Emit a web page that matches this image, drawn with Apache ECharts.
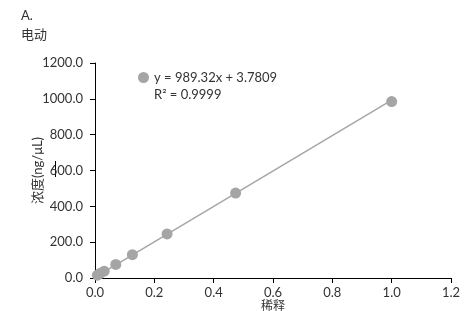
<!DOCTYPE html>
<html><head><meta charset="utf-8">
<script src="https://cdn.jsdelivr.net/npm/echarts@6/dist/echarts.min.js"></script>
<style>html,body{margin:0;padding:0;background:#fff}#c{width:472px;height:311px}</style>
</head><body><div id="c"></div>
<script>
const dilution = [0.008, 0.016, 0.031, 0.07, 0.126, 0.243, 0.474, 1.0];
const concentration = [16, 25, 38, 76, 130, 246, 474, 985];
const slope = 989.32;
const intercept = 3.7809;
const equationText = 'y = 989.32x + 3.7809';
const r2Text = 'R² = 0.9999';
const titleText = 'A.';
const subtitleText = '电动';
const xName = '稀释';
const yName = '浓度(ng/μL)';

const points = dilution.map((x, i) => [x, concentration[i]]);
const xMin = Math.min(...dilution), xMax = Math.max(...dilution);
const trend = [[xMin, slope * xMin + intercept], [xMax, slope * xMax + intercept]];
const font = 'Lato, "Noto Sans", "Noto Sans CJK SC", sans-serif';
const txt = '#333333';

const chart = echarts.init(document.getElementById('c'), null, {renderer: 'canvas'});
chart.setOption({
  animation: false,
  textStyle: {fontFamily: font},
  title: {
    text: titleText, subtext: subtitleText, left: 16, top: 4, itemGap: 6,
    textStyle: {fontSize: 13, fontWeight: 'normal', color: txt, fontFamily: font},
    subtextStyle: {fontSize: 13, color: txt, fontFamily: font}
  },
  legend: {
    data: [equationText], left: 138, top: 71, padding: 0, itemWidth: 11, itemHeight: 11, itemGap: 4,
    textStyle: {fontSize: 13, color: txt, fontFamily: font}
  },
  graphic: [
    {type: 'text', left: 154, top: 88, style: {text: r2Text, fontSize: 13, fill: txt, fontFamily: font}},
    {type: 'line', shape: {x1: 55.5, y1: 161, x2: 55.5, y2: 177}, style: {stroke: '#000', lineWidth: 1}}
  ],
  grid: {left: 95, right: 21, top: 63, bottom: 33, outerBoundsMode: 'none', containLabel: false},
  xAxis: {
    type: 'value', min: 0, max: 1.2, interval: 0.2,
    name: xName, nameLocation: 'middle', nameGap: 22, nameMoveOverlap: false,
    nameTextStyle: {fontSize: 12, color: txt, fontFamily: font},
    axisLine: {show: true, lineStyle: {color: '#000', width: 1}},
    axisTick: {show: true, length: 5, lineStyle: {color: '#000'}},
    axisLabel: {fontSize: 13, color: txt, margin: 8, formatter: v => v.toFixed(1)},
    splitLine: {show: false}
  },
  yAxis: {
    type: 'value', min: 0, max: 1200, interval: 200,
    name: yName, nameLocation: 'middle', nameGap: 51, nameRotate: 90, nameMoveOverlap: false,
    nameTextStyle: {fontSize: 13, color: txt, fontFamily: font},
    axisLine: {show: true, lineStyle: {color: '#000', width: 1}},
    axisTick: {show: true, length: 5, lineStyle: {color: '#000'}},
    axisLabel: {fontSize: 13, color: txt, margin: 12, formatter: v => v.toFixed(1)},
    splitLine: {show: false}
  },
  series: [
    {type: 'line', data: trend, symbol: 'none', lineStyle: {color: '#a6a6a6', width: 1.5}, silent: true, z: 1},
    {name: equationText, type: 'scatter', data: points, symbol: 'circle', symbolSize: 11,
     itemStyle: {color: '#a5a5a5', opacity: 1}, z: 2}
  ]
});
</script></body></html>
